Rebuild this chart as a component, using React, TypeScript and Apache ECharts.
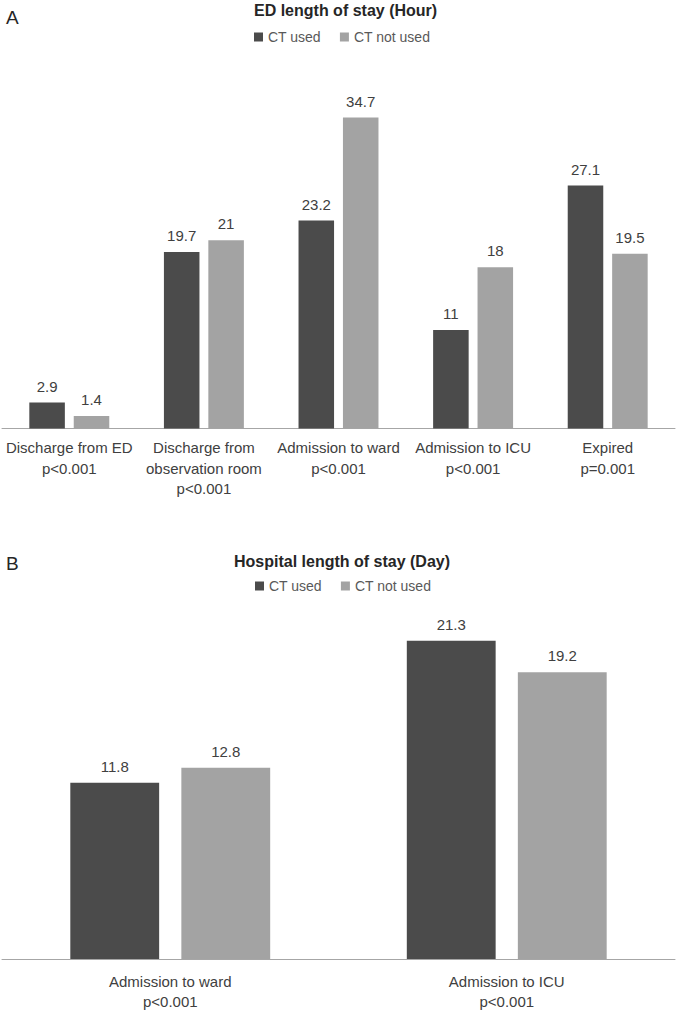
import React, { useEffect, useRef } from "react";
import * as echarts from "echarts";

const seriesNames = ["CT used", "CT not used"];
const categoriesA = [
  "Discharge from ED\np<0.001",
  "Discharge from\nobservation room\np<0.001",
  "Admission to ward\np<0.001",
  "Admission to ICU\np<0.001",
  "Expired\np=0.001",
];
const usedA = [2.9, 19.7, 23.2, 11, 27.1];
const notUsedA = [1.4, 21, 34.7, 18, 19.5];

const categoriesB = ["Admission to ward\np<0.001", "Admission to ICU\np<0.001"];
const usedB = [11.8, 21.3];
const notUsedB = [12.8, 19.2];

const DARK = "#4b4b4b";
const LIGHT = "#a3a3a3";
const FONT = "'Liberation Sans', Arial, sans-serif";

export default function App() {
  const ref = useRef<HTMLDivElement>(null);
  useEffect(() => {
    if (!ref.current) return;
    const chart = echarts.init(ref.current, undefined, { renderer: "svg" });
    const valueLabel = {
      show: true,
      position: "top",
      distance: 9,
      fontSize: 15,
      color: "#404040",
      fontFamily: FONT,
    };
    const barCommon = {
      type: "bar",
      barGap: "25%",
      barCategoryGap: "40.6%",
      label: valueLabel,
    };
    const axisLabel = (margin: number) => ({
      interval: 0,
      margin,
      fontSize: 15,
      lineHeight: 20.5,
      color: "#404040",
      fontFamily: FONT,
    });
    chart.setOption({
      animation: false,
      backgroundColor: "#ffffff",
      textStyle: { fontFamily: FONT },
      title: [
        {
          text: "A",
          left: 6,
          top: 8,
          padding: 0,
          textStyle: { fontSize: 19, fontWeight: "normal", color: "#262626", fontFamily: FONT },
        },
        {
          text: "ED length of stay (Hour)",
          left: 254,
          top: 2,
          padding: 0,
          textStyle: { fontSize: 16, fontWeight: "bold", color: "#262626", fontFamily: FONT },
        },
        {
          text: "B",
          left: 6,
          top: 554,
          padding: 0,
          textStyle: { fontSize: 19, fontWeight: "normal", color: "#262626", fontFamily: FONT },
        },
        {
          text: "Hospital length of stay (Day)",
          left: 234,
          top: 553,
          padding: 0,
          textStyle: { fontSize: 16, fontWeight: "bold", color: "#262626", fontFamily: FONT },
        },
      ],
      legend: [
        {
          data: seriesNames,
          left: 254,
          top: 30,
          padding: 0,
          itemWidth: 9,
          itemHeight: 9,
          itemGap: 19,
          icon: "rect",
          textStyle: { fontSize: 14, color: "#595959", fontFamily: FONT },
        },
        {
          data: seriesNames,
          left: 255,
          top: 579,
          padding: 0,
          itemWidth: 9,
          itemHeight: 9,
          itemGap: 19,
          icon: "rect",
          textStyle: { fontSize: 14, color: "#595959", fontFamily: FONT },
        },
      ],
      grid: [
        { left: 2, width: 673, top: 70, bottom: 583.5 },
        { left: 2, width: 673, top: 585.5, bottom: 51 },
      ],
      xAxis: [
        {
          type: "category",
          gridIndex: 0,
          data: categoriesA,
          axisTick: { show: false },
          axisLine: { lineStyle: { color: "#a6a6a6", width: 1 } },
          axisLabel: axisLabel(9),
        },
        {
          type: "category",
          gridIndex: 1,
          data: categoriesB,
          axisTick: { show: false },
          axisLine: { lineStyle: { color: "#a6a6a6", width: 1 } },
          axisLabel: axisLabel(12),
        },
      ],
      yAxis: [
        { type: "value", gridIndex: 0, min: 0, max: 40, show: false, splitLine: { show: false } },
        { type: "value", gridIndex: 1, min: 0, max: 25, show: false, splitLine: { show: false } },
      ],
      series: [
        { ...barCommon, name: seriesNames[0], xAxisIndex: 0, yAxisIndex: 0, data: usedA, itemStyle: { color: DARK } },
        { ...barCommon, name: seriesNames[1], xAxisIndex: 0, yAxisIndex: 0, data: notUsedA, itemStyle: { color: LIGHT } },
        { ...barCommon, name: seriesNames[0], xAxisIndex: 1, yAxisIndex: 1, data: usedB, itemStyle: { color: DARK } },
        { ...barCommon, name: seriesNames[1], xAxisIndex: 1, yAxisIndex: 1, data: notUsedB, itemStyle: { color: LIGHT } },
      ],
    });
    return () => chart.dispose();
  }, []);
  return (
    <div
      ref={ref}
      style={{ position: "absolute", left: 0, top: 0, width: 677, height: 1012, background: "#fff" }}
    />
  );
}
